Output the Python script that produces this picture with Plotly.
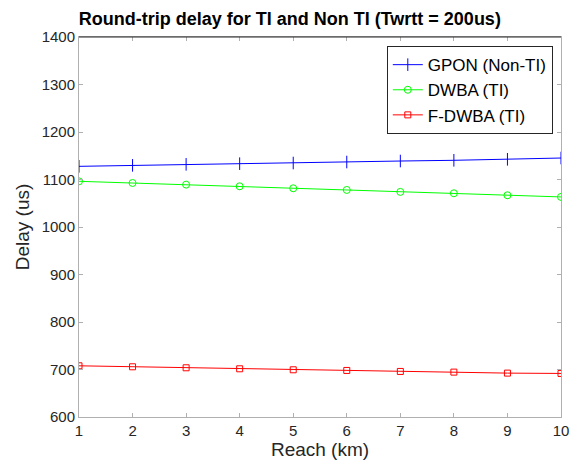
import plotly.graph_objects as go

reach = [1, 2, 3, 4, 5, 6, 7, 8, 9, 10]
gpon = [1127.7, 1129.8, 1131.9, 1133.3, 1134.7, 1136.8, 1138.9, 1140.4, 1142.5, 1145.2]
dwba = [1096.2, 1092.7, 1089.2, 1085.7, 1081.5, 1078.0, 1073.9, 1071.0, 1066.8, 1063.3]
fdwba = [707.8, 705.7, 703.6, 701.5, 699.4, 698.0, 695.9, 694.5, 692.4, 691.7]
yticks = [600, 700, 800, 900, 1000, 1100, 1200, 1300, 1400]

FONT = "Liberation Sans, Arial, Helvetica, sans-serif"

fig = go.Figure()
fig.add_trace(go.Scatter(x=reach, y=gpon, mode="lines+markers", name="GPON (Non-TI)",
                         line=dict(color="#0000ff", width=1),
                         marker=dict(symbol="line-ns", size=9, line=dict(color="#0000ff", width=1))))
fig.add_trace(go.Scatter(x=reach, y=dwba, mode="lines+markers", name="DWBA (TI)",
                         line=dict(color="#00ff00", width=1),
                         marker=dict(symbol="circle-open", size=7, color="#00ff00", line=dict(width=1))))
fig.add_trace(go.Scatter(x=reach, y=fdwba, mode="lines+markers", name="F-DWBA (TI)",
                         line=dict(color="#ff0000", width=1),
                         marker=dict(symbol="square-open", size=6, color="#ff0000", line=dict(width=1))))

axis_common = dict(showgrid=False, zeroline=False, showline=True, linecolor="#b0b0b0",
                   linewidth=1, mirror="ticks", ticks="inside", ticklen=4,
                   tickcolor="#b0b0b0", automargin=False,
                   tickfont=dict(family=FONT, size=15, color="#262626"))

fig.update_layout(
    width=575, height=467,
    margin=dict(l=79, r=14, t=37, b=50),
    paper_bgcolor="white", plot_bgcolor="white",
    title=dict(text="<b>Round-trip delay for TI and Non TI (Twrtt = 200us)</b>",
               x=0.504, xanchor="center", y=0.961, yanchor="middle",
               font=dict(family=FONT, size=18, color="black")),
    xaxis=dict(range=[1, 10], tickvals=reach, title=dict(text="Reach (km)", standoff=4,
               font=dict(family=FONT, size=19, color="#262626")), **axis_common),
    yaxis=dict(range=[600, 1400], tickvals=yticks, title=dict(text="Delay (us)", standoff=6,
               font=dict(family=FONT, size=19, color="#262626")), **axis_common),
    legend=dict(x=0.983, xanchor="right", y=0.976, yanchor="top",
                bgcolor="white", bordercolor="#262626", borderwidth=1,
                font=dict(family=FONT, size=17, color="black"),
                tracegroupgap=0, itemwidth=30),
    showlegend=True,
)
fig.add_shape(type="line", xref="paper", yref="paper", x0=0, x1=1, y0=1, y1=1,
              line=dict(color="#262626", width=1))

fig.write_html("out.html")
